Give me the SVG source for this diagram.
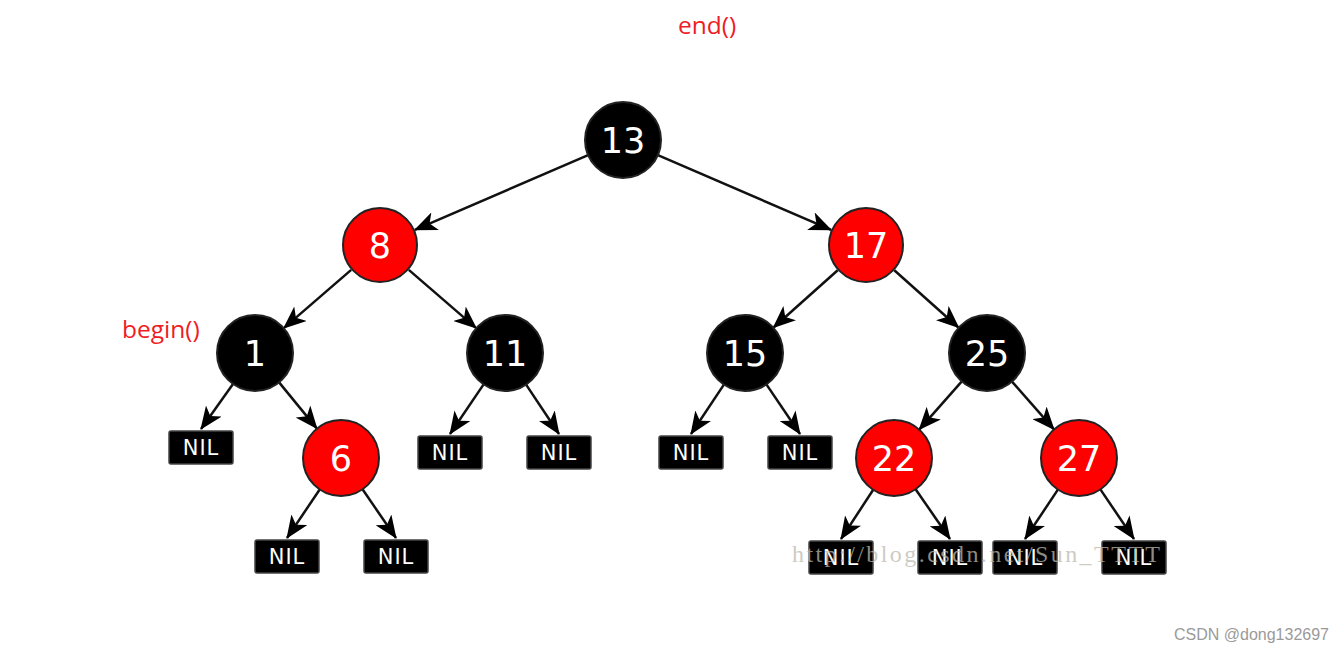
<svg xmlns="http://www.w3.org/2000/svg" width="1343" height="653" viewBox="0 0 1343 653">
<style>
.blk{fill:#000;stroke:#222;stroke-width:2}
.red{fill:#ff0000;stroke:#222;stroke-width:2}
.num{font-family:"DejaVu Sans",sans-serif;font-size:35px;fill:#fff;text-anchor:middle}
.nil{fill:#000;stroke:#444;stroke-width:1.5}
.nilt{font-family:"DejaVu Sans",sans-serif;font-size:21px;fill:#fff;text-anchor:middle;letter-spacing:1px}
.edge{stroke:#111;stroke-width:2.5;fill:none;marker-end:url(#arr)}
.lbl{font-family:"Open Sans","Noto Sans",sans-serif;font-size:24.5px;fill:#ee1c25}
</style>
<defs>
<marker id="arr" markerUnits="userSpaceOnUse" viewBox="0 0 23 19" markerWidth="23" markerHeight="19" refX="22" refY="9.5" orient="auto">
<path d="M23,9.5 L0,0 L6,9.5 L0,19 Z" fill="#000"/>
</marker>
</defs>
<rect width="1343" height="653" fill="#fff"/>
<g id="connectors">
<line class="edge" x1="588.1" y1="155.1" x2="414.9" y2="229.9"/>
<line class="edge" x1="657.9" y1="155.1" x2="831.1" y2="229.9"/>
<line class="edge" x1="351.2" y1="269.9" x2="283.8" y2="328.1"/>
<line class="edge" x1="408.8" y1="269.9" x2="476.2" y2="328.1"/>
<line class="edge" x1="837.7" y1="270.3" x2="773.3" y2="327.7"/>
<line class="edge" x1="894.3" y1="270.3" x2="958.7" y2="327.7"/>
<line class="edge" x1="233" y1="384" x2="201" y2="429"/>
<line class="edge" x1="279.1" y1="382.4" x2="316.9" y2="428.6"/>
<line class="edge" x1="483.6" y1="384.4" x2="450" y2="434"/>
<line class="edge" x1="526.1" y1="384.6" x2="559" y2="434"/>
<line class="edge" x1="723.9" y1="384.6" x2="691" y2="434"/>
<line class="edge" x1="766.4" y1="384.4" x2="800" y2="434"/>
<line class="edge" x1="961.8" y1="381.4" x2="919.2" y2="429.6"/>
<line class="edge" x1="1012" y1="381.6" x2="1054" y2="429.4"/>
<line class="edge" x1="319.7" y1="489.5" x2="287" y2="538"/>
<line class="edge" x1="362.5" y1="489.3" x2="396" y2="538"/>
<line class="edge" x1="873.2" y1="489.8" x2="841" y2="539"/>
<line class="edge" x1="915.6" y1="489.2" x2="950" y2="539"/>
<line class="edge" x1="1057.9" y1="489.6" x2="1025" y2="539"/>
<line class="edge" x1="1100.4" y1="489.4" x2="1134" y2="539"/>
</g>
<g id="n13"><circle class="blk" cx="623" cy="140" r="38"/><text class="num" x="623" y="153">13</text></g>
<g id="n8"><circle class="red" cx="380" cy="245" r="37"/><text class="num" x="380" y="258">8</text></g>
<g id="n17"><circle class="red" cx="866" cy="245" r="37"/><text class="num" x="866" y="258">17</text></g>
<g id="n1"><circle class="blk" cx="255" cy="353" r="38"/><text class="num" x="255" y="366">1</text></g>
<g id="n11"><circle class="blk" cx="505" cy="353" r="38"/><text class="num" x="505" y="366">11</text></g>
<g id="n15"><circle class="blk" cx="745" cy="353" r="38"/><text class="num" x="745" y="366">15</text></g>
<g id="n25"><circle class="blk" cx="987" cy="353" r="38"/><text class="num" x="987" y="366">25</text></g>
<g id="n6"><circle class="red" cx="341" cy="458" r="38"/><text class="num" x="341" y="471">6</text></g>
<g id="n22"><circle class="red" cx="894" cy="458" r="38"/><text class="num" x="894" y="471">22</text></g>
<g id="n27"><circle class="red" cx="1079" cy="458" r="38"/><text class="num" x="1079" y="471">27</text></g>
<g id="nil1"><rect class="nil" x="169" y="431" width="64" height="33" rx="2"/><text class="nilt" x="201" y="455">NIL</text></g>
<g id="nil2"><rect class="nil" x="418" y="436" width="64" height="33" rx="2"/><text class="nilt" x="450" y="460">NIL</text></g>
<g id="nil3"><rect class="nil" x="527" y="436" width="64" height="33" rx="2"/><text class="nilt" x="559" y="460">NIL</text></g>
<g id="nil4"><rect class="nil" x="659" y="436" width="64" height="33" rx="2"/><text class="nilt" x="691" y="460">NIL</text></g>
<g id="nil5"><rect class="nil" x="768" y="436" width="64" height="33" rx="2"/><text class="nilt" x="800" y="460">NIL</text></g>
<g id="nil6"><rect class="nil" x="255" y="540" width="64" height="33" rx="2"/><text class="nilt" x="287" y="564">NIL</text></g>
<g id="nil7"><rect class="nil" x="364" y="540" width="64" height="33" rx="2"/><text class="nilt" x="396" y="564">NIL</text></g>
<g id="nil8"><rect class="nil" x="809" y="541" width="64" height="33" rx="2"/><text class="nilt" x="841" y="565">NIL</text></g>
<g id="nil9"><rect class="nil" x="918" y="541" width="64" height="33" rx="2"/><text class="nilt" x="950" y="565">NIL</text></g>
<g id="nil10"><rect class="nil" x="993" y="541" width="64" height="33" rx="2"/><text class="nilt" x="1025" y="565">NIL</text></g>
<g id="nil11"><rect class="nil" x="1102" y="541" width="64" height="33" rx="2"/><text class="nilt" x="1134" y="565">NIL</text></g>
<g id="labels">
<text class="lbl" x="678" y="34">end()</text>
<text class="lbl" x="122" y="338">begin()</text>
</g>
<g id="watermarks">
<text x="792" y="562" font-family="Liberation Serif,serif" font-size="24" fill="#bdb9ae" fill-opacity="0.75" textLength="368" lengthAdjust="spacing">http://blog.csdn.net/Sun_TTTT</text>
<text x="1174" y="640" font-family="Liberation Sans,Arial,sans-serif" font-size="16" fill="#9a9a9a">CSDN @dong132697</text>
</g>
</svg>
